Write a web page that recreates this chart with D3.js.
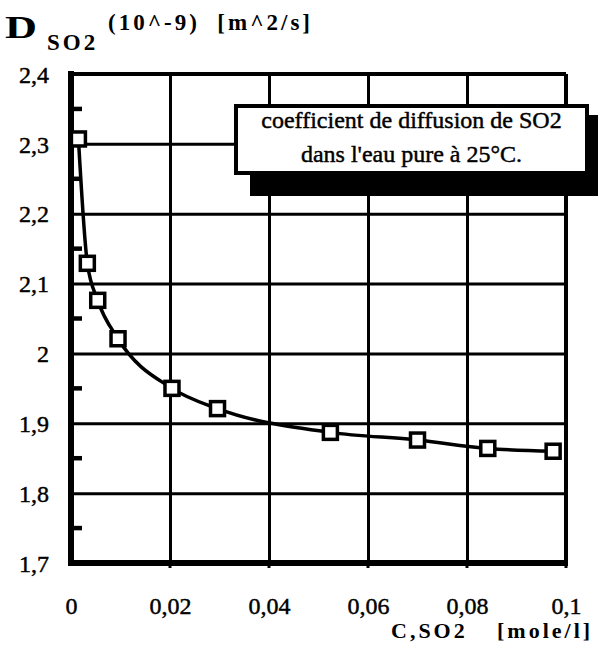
<!DOCTYPE html>
<html>
<head>
<meta charset="utf-8">
<script src="https://cdn.jsdelivr.net/npm/d3@7"></script>
<style>
  html, body { margin: 0; padding: 0; background: #fff; }
  svg { display: block; }
  svg text { font-family: "Liberation Serif", "Times New Roman", "DejaVu Serif", serif; fill: #000; }
  .ink { stroke: #000; stroke-width: 0.45px; }
</style>
</head>
<body>
<script>
// Diffusion coefficient of SO2 in pure water vs. concentration
const concentration = [0.0015, 0.0033, 0.0054, 0.0095, 0.0204, 0.0296, 0.0524, 0.0700, 0.0842, 0.0974];
const diffusivity   = [2.307, 2.129, 2.076, 2.021, 1.950, 1.921, 1.887, 1.876, 1.864, 1.860];

const xTicks = [0, 0.02, 0.04, 0.06, 0.08, 0.1];
const xTickLabels = ["0", "0,02", "0,04", "0,06", "0,08", "0,1"];
const yTicks = [1.7, 1.8, 1.9, 2.0, 2.1, 2.2, 2.3, 2.4];
const yTickLabels = ["1,7", "1,8", "1,9", "2", "2,1", "2,2", "2,3", "2,4"];
const yMinorTicks = [1.75, 1.85, 1.95, 2.05, 2.15, 2.25, 2.35];

const legendLines = ["coefficient de diffusion de SO2", "dans l'eau pure à 25°C."];

const W = 598, H = 645;
const plot = { left: 71, right: 566, top: 74, bottom: 563 };
const SERIF = '"Liberation Serif", "Times New Roman", "DejaVu Serif", serif';

const svg = d3.select("body").append("svg").attr("width", W).attr("height", H);

const x = d3.scaleLinear().domain([0, 0.1]).range([plot.left, plot.right]);
const y = d3.scaleLinear().domain([1.7, 2.4]).range([plot.bottom, plot.top]);

// Grid: vertical lines
const xGrid = svg.append("g")
  .attr("transform", `translate(0,${plot.bottom})`)
  .call(d3.axisBottom(x).tickValues(xTicks.slice(1, -1)).tickSize(-(plot.bottom - plot.top)).tickFormat(""));
xGrid.select(".domain").remove();
xGrid.selectAll("line").attr("stroke", "#000").style("stroke-width", "3px");

// Grid: horizontal lines
const yGrid = svg.append("g")
  .attr("transform", `translate(${plot.left},0)`)
  .call(d3.axisLeft(y).tickValues(yTicks.slice(1, -1)).tickSize(-(plot.right - plot.left)).tickFormat(""));
yGrid.select(".domain").remove();
yGrid.selectAll("line").attr("stroke", "#000").style("stroke-width", "3px");

// Frame
const frame = svg.append("g").attr("stroke", "#000");
frame.append("line").attr("x1", plot.left).attr("x2", plot.right).attr("y1", plot.top).attr("y2", plot.top)
  .style("stroke-width", "4px");
frame.append("line").attr("x1", plot.right).attr("x2", plot.right).attr("y1", plot.top).attr("y2", plot.bottom)
  .style("stroke-width", "4px");
frame.append("line").attr("x1", plot.left - 3).attr("x2", plot.right + 2).attr("y1", plot.bottom).attr("y2", plot.bottom)
  .style("stroke-width", "6px");
frame.append("line").attr("x1", plot.left).attr("x2", plot.left).attr("y1", plot.top - 3).attr("y2", plot.bottom + 3)
  .style("stroke-width", "6px");

// Small stubs below the bottom axis at each grid line
svg.append("g").selectAll("line").data(xTicks.slice(1)).join("line")
  .attr("x1", d => x(d)).attr("x2", d => x(d))
  .attr("y1", plot.bottom).attr("y2", plot.bottom + 5)
  .attr("stroke", "#000").style("stroke-width", "3px");

// Minor ticks on the left axis
svg.append("g").selectAll("line").data(yMinorTicks).join("line")
  .attr("x1", plot.left).attr("x2", plot.left + 11)
  .attr("y1", d => y(d)).attr("y2", d => y(d))
  .attr("stroke", "#000").style("stroke-width", "4.5px");

// Y tick labels
const yAxis = svg.append("g")
  .attr("transform", `translate(${plot.left},0)`)
  .call(d3.axisLeft(y).tickValues(yTicks).tickSize(0).tickPadding(22)
    .tickFormat((d, i) => yTickLabels[i]));
yAxis.select(".domain").remove();
yAxis.attr("font-family", SERIF).attr("font-size", 24);
yAxis.selectAll("text").attr("class", "ink").style("font-family", SERIF).style("font-size", "24px").attr("dy", "0.34em");

// X tick labels
const xAxis = svg.append("g")
  .attr("transform", `translate(0,${plot.bottom})`)
  .call(d3.axisBottom(x).tickValues(xTicks).tickSize(0).tickPadding(34)
    .tickFormat((d, i) => xTickLabels[i]));
xAxis.select(".domain").remove();
xAxis.attr("font-family", SERIF).attr("font-size", 24);
xAxis.selectAll("text").attr("class", "ink").style("font-family", SERIF).style("font-size", "24px").attr("dy", "0.71em");

// Legend box with drop shadow
const box = { x0: 236, y0: 106, x1: 587, y1: 173 };
svg.append("rect").attr("x", 250).attr("y", 115).attr("width", 600 - 250).attr("height", 196 - 115).attr("fill", "#000");
svg.append("rect").attr("x", box.x0).attr("y", box.y0).attr("width", box.x1 - box.x0).attr("height", box.y1 - box.y0)
  .attr("fill", "#fff").attr("stroke", "#000").style("stroke-width", "4px");
svg.append("g").selectAll("text").data(legendLines).join("text")
  .attr("class", "ink")
  .attr("x", (box.x0 + box.x1) / 2)
  .attr("y", (d, i) => 128 + i * 34)
  .attr("text-anchor", "middle")
  .style("font-family", SERIF).style("font-size", "24px")
  .text(d => d);

// Data curve
const pts = concentration.map((c, i) => [c, diffusivity[i]]);
svg.append("path")
  .datum(pts)
  .attr("fill", "none").attr("stroke", "#000").style("stroke-width", "3.5px")
  .attr("d", d3.line().x(d => x(d[0])).y(d => y(d[1])).curve(d3.curveMonotoneX));

// Square markers
const s = 14;
svg.append("g").selectAll("rect").data(pts).join("rect")
  .attr("x", d => x(d[0]) - s / 2).attr("y", d => y(d[1]) - s / 2)
  .attr("width", s).attr("height", s)
  .attr("fill", "#fff").attr("stroke", "#000").style("stroke-width", "3.5px");

// Y axis title
const yTitle = svg.append("text").style("font-family", SERIF).style("font-weight", "bold");
yTitle.append("tspan").attr("x", 5).attr("y", 38).style("font-size", "31px")
  .attr("textLength", 32).attr("lengthAdjust", "spacingAndGlyphs").text("D");
yTitle.append("tspan").attr("x", 47).attr("y", 50).style("font-size", "23px").style("letter-spacing", "3px").text("SO2");
yTitle.append("tspan").attr("x", 108).attr("y", 30).style("font-size", "23px").style("letter-spacing", "3px")
  .style("white-space", "pre").text("(10^-9)  [m^2/s]");

// X axis title
const xTitle = svg.append("text").style("font-family", SERIF).style("font-weight", "bold")
  .style("font-size", "22px").style("letter-spacing", "3px").attr("y", 638);
xTitle.append("tspan").attr("x", 391).text("C,SO2");
xTitle.append("tspan").attr("x", 497).text("[mole/l]");
</script>
</body>
</html>
